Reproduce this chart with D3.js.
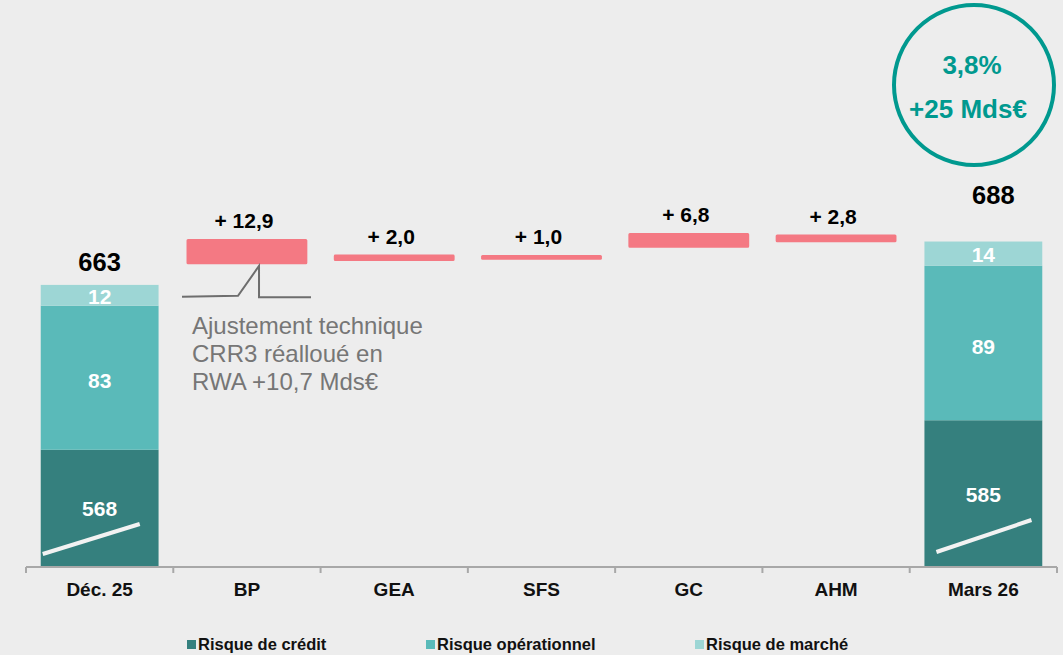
<!DOCTYPE html>
<html lang="fr">
<head>
<meta charset="utf-8">
<script src="https://cdn.jsdelivr.net/npm/d3@7"></script>
<style>
  html, body { margin: 0; padding: 0; background: #ededed; }
  svg { display: block; font-family: "Liberation Sans", Arial, sans-serif; }
</style>
</head>
<body>
<svg id="chart" width="1063" height="655"></svg>
<script>
// RWA bridge, Déc. 25 -> Mars 26 (Mds€)
const categories = ["Déc. 25", "BP", "GEA", "SFS", "GC", "AHM", "Mars 26"];

// Stacked totals (first and last columns)
const totalCategories = ["Déc. 25", "Mars 26"];
const creditRisk = [568, 585];
const operationalRisk = [83, 89];
const marketRisk = [12, 14];
const totals = [663, 688];

// Step bars between the two totals
const stepCategories = ["BP", "GEA", "SFS", "GC", "AHM"];
const stepValues = [12.9, 2.0, 1.0, 6.8, 2.8];
const stepLabels = ["+ 12,9", "+ 2,0", "+ 1,0", "+ 6,8", "+ 2,8"];
const stepBase = [675.7, 677.6, 678.4, 685.3, 688.4];

const seriesNames = ["Risque de crédit", "Risque opérationnel", "Risque de marché"];
const annotationLines = ["Ajustement technique", "CRR3 réalloué en", "RWA +10,7 Mds€"];
const badgeLines = ["3,8%", "+25 Mds€"];

const colors = {
  credit: "#35807e",
  operational: "#5abab9",
  market: "#9dd6d5",
  step: "#f47983",
  axis: "#a8a8a8",
  teal: "#00998f",
  note: "#767676"
};

const svg = d3.select("#chart");
const baseY = 566;

// Broken value axis: the visible part starts at 501
const y = d3.scaleLinear().domain([501, 827.2]).range([baseY, 0]);
const x = d3.scaleBand().domain(categories).range([26, 1057])
  .paddingInner(0.2).paddingOuter(0.1);
const bw = x.bandwidth();

// Stacked columns
const stackRows = totalCategories.map((c, i) => ({
  cat: c, credit: creditRisk[i], operational: operationalRisk[i], market: marketRisk[i]
}));
const keys = ["credit", "operational", "market"];
const stacked = d3.stack().keys(keys)(stackRows.map(r => ({...r})));
// the stack starts at the axis floor
stacked.forEach(layer => layer.forEach((d, i) => {
  d.lo = d[0] === 0 ? y.domain()[0] : d[0];
  d.hi = d[1];
  d.cat = stackRows[i].cat;
  d.val = stackRows[i][layer.key];
}));

const gStack = svg.append("g");
stacked.forEach(layer => {
  gStack.selectAll(null).data(layer).join("rect")
    .attr("x", d => x(d.cat))
    .attr("width", bw)
    .attr("y", d => y(d.hi))
    .attr("height", d => y(d.lo) - y(d.hi))
    .attr("fill", colors[layer.key]);
  gStack.selectAll(null).data(layer).join("text")
    .attr("x", d => x(d.cat) + bw / 2)
    .attr("y", d => (y(d.hi) + y(d.lo)) / 2 + (layer.key === "operational" ? 3 : 1))
    .attr("dy", "0.36em")
    .attr("text-anchor", "middle")
    .attr("fill", "#ffffff")
    .attr("font-weight", "bold")
    .attr("font-size", 21)
    .text(d => d.val);
});

// Axis-break marks across the credit segments
gStack.selectAll(null).data(totalCategories).join("line")
  .attr("x1", (c, i) => x(c) + (i === 0 ? 2 : 12))
  .attr("x2", (c, i) => x(c) + (i === 0 ? 99 : 107))
  .attr("y1", (c, i) => baseY - (i === 0 ? 12 : 14))
  .attr("y2", (c, i) => baseY - (i === 0 ? 42 : 46))
  .attr("stroke", "#f2f2f2")
  .attr("stroke-width", 4);

// Totals above the columns
const totalLift = [14, 38];
const totalShift = [0, 10];
svg.append("g").selectAll("text").data(totals).join("text")
  .attr("x", (d, i) => x(totalCategories[i]) + bw / 2 + totalShift[i])
  .attr("y", (d, i) => y(d) - totalLift[i])
  .attr("text-anchor", "middle")
  .attr("font-weight", "bold")
  .attr("font-size", 25.5)
  .attr("fill", "#000")
  .text(d => d);

// Step bars
const gStep = svg.append("g");
gStep.selectAll("rect").data(stepValues).join("rect")
  .attr("x", (d, i) => x(stepCategories[i]))
  .attr("width", bw)
  .attr("y", (d, i) => y(stepBase[i] + d))
  .attr("height", (d, i) => y(stepBase[i]) - y(stepBase[i] + d))
  .attr("fill", colors.step)
  .attr("stroke", colors.step)
  .attr("stroke-width", 3)
  .attr("stroke-linejoin", "round");
gStep.selectAll("text").data(stepValues).join("text")
  .attr("x", (d, i) => x(stepCategories[i]) + bw / 2 - 3)
  .attr("y", (d, i) => y(stepBase[i] + d) - 12)
  .attr("text-anchor", "middle")
  .attr("font-weight", "bold")
  .attr("font-size", 21)
  .attr("fill", "#000")
  .text((d, i) => stepLabels[i]);

// Callout under the BP bar
const bpX = x("BP");
const bpBottom = y(stepBase[0]) + 1.5;
svg.append("path")
  .attr("d", `M${bpX - 6},${bpBottom + 32.5} L${bpX + 50},${bpBottom + 31.5} L${bpX + 71},${bpBottom + 1.5} L${bpX + 71},${bpBottom + 33} L${bpX + 123},${bpBottom + 33}`)
  .attr("fill", "none")
  .attr("stroke", "#6e6e6e")
  .attr("stroke-width", 2);
svg.append("g").selectAll("text").data(annotationLines).join("text")
  .attr("x", bpX + 4)
  .attr("y", (d, i) => bpBottom + 70 + i * 28)
  .attr("font-size", 24)
  .attr("fill", colors.note)
  .text(d => d);

// Category axis
const gAxis = svg.append("g").attr("transform", `translate(0,${baseY + 1})`);
const step = x.step();
const edges = d3.range(categories.length + 1).map(i => x(categories[0]) - x.paddingInner() * step / 2 + i * step);
gAxis.append("line")
  .attr("x1", edges[0]).attr("x2", edges[edges.length - 1])
  .attr("stroke", colors.axis).attr("stroke-width", 2);
gAxis.selectAll("line.tick").data(edges).join("line")
  .attr("class", "tick")
  .attr("x1", d => d).attr("x2", d => d)
  .attr("y1", 0).attr("y2", 6)
  .attr("stroke", colors.axis).attr("stroke-width", 2);
const axis = d3.axisBottom(x).tickSize(0).tickPadding(0);
const gLabels = svg.append("g").attr("transform", `translate(0,${baseY + 1})`).call(axis);
gLabels.select(".domain").remove();
gLabels.selectAll("text")
  .attr("y", 29)
  .attr("dy", 0)
  .attr("font-family", "Liberation Sans, Arial, sans-serif")
  .attr("font-size", 19)
  .attr("font-weight", "bold")
  .attr("fill", "#111");

// Legend
const legendX = [187, 426, 695];
const legendColors = [colors.credit, colors.operational, colors.market];
const gLegend = svg.append("g");
gLegend.selectAll("rect").data(seriesNames).join("rect")
  .attr("x", (d, i) => legendX[i]).attr("y", 640)
  .attr("width", 9).attr("height", 9)
  .attr("fill", (d, i) => legendColors[i]);
gLegend.selectAll("text").data(seriesNames).join("text")
  .attr("x", (d, i) => legendX[i] + 11).attr("y", 649.5)
  .attr("font-size", 16.5).attr("font-weight", "bold").attr("fill", "#111")
  .text(d => d);

// Growth badge
const badge = svg.append("g").attr("transform", "translate(974,85)");
badge.append("circle").attr("r", 80)
  .attr("fill", "none").attr("stroke", colors.teal).attr("stroke-width", 4);
badge.selectAll("text").data(badgeLines).join("text")
  .attr("x", (d, i) => i === 0 ? -2 : -6)
  .attr("y", (d, i) => i === 0 ? -11 : 33)
  .attr("text-anchor", "middle")
  .attr("font-weight", "bold").attr("font-size", 26)
  .attr("fill", colors.teal)
  .text(d => d);
</script>
</body>
</html>
